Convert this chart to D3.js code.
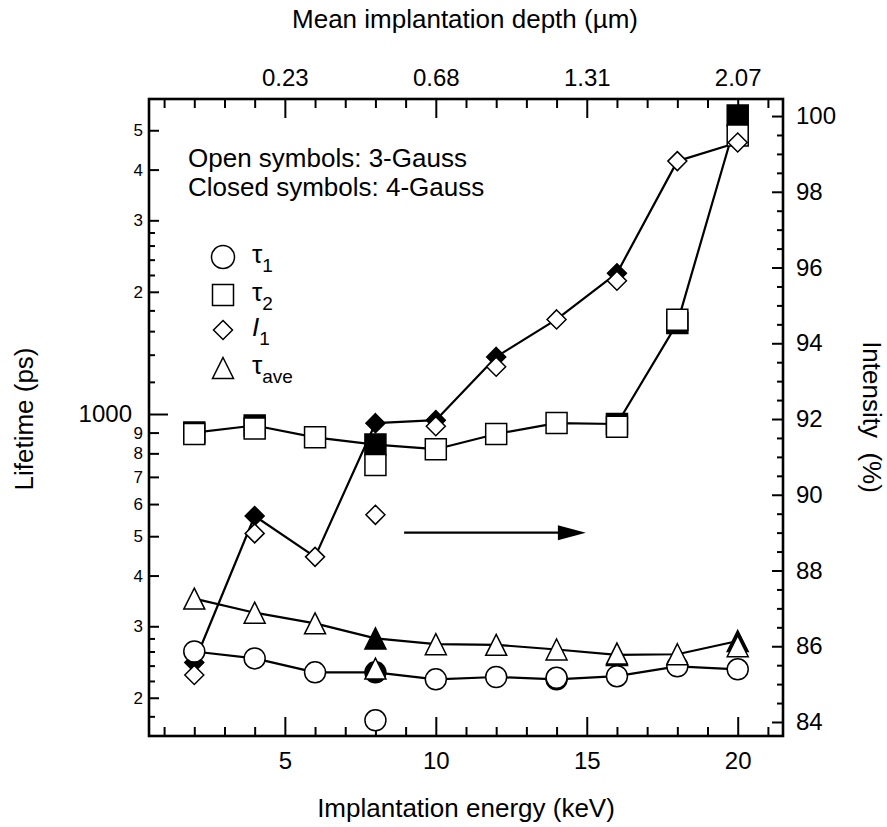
<!DOCTYPE html>
<html>
<head>
<meta charset="utf-8">
<script src="https://cdn.jsdelivr.net/npm/d3@7"></script>
<style>
  body { margin: 0; background: #fff; }
  svg { display: block; }
  text { font-family: "Liberation Sans", Arial, Helvetica, sans-serif; fill: #000; }
</style>
</head>
<body>
<svg id="chart" width="887" height="827"></svg>
<script>
// Implantation energies (keV) of the measured points
const energy = [2, 4, 6, 8, 10, 12, 14, 16, 18, 20];

// Top axis: mean implantation depth (µm) at selected energies
const depthTickEnergy = [5, 10, 15, 20];
const depthTickLabels = ["0.23", "0.68", "1.31", "2.07"];

// 3-Gauss fits (open symbols); null = not fitted
const tau1Open    = [260, 250, 231, 176, 222, 225, 224, 226, 239, 235];
const tau2Open    = [893, 921, 876, 749, 819, 893, 950, 930, 1707, 4853];
const i1Open      = [85.24, 88.98, 88.36, 89.47, 91.81, 93.38, 94.63, 95.65, 98.81, 99.30];
const tauAveOpen  = [351, 324, 305, 236, 271, 270, 263, 257, 256, 268];

// 4-Gauss fits (closed symbols); null = not fitted
const tau1Closed   = [null, null, null, 231, null, null, 222, null, null, null];
const tau2Closed   = [900, 937, null, 841, null, null, null, 945, 1675, 5435];
const i1Closed     = [85.57, 89.44, null, 91.89, 91.97, 93.64, null, 95.85, null, null];
const tauAveClosed = [null, null, null, 280, null, null, null, 255, null, 276];

// Left axis (log) tick values
const lifeMajor = [1000];
const lifeLabeled = [200, 300, 400, 500, 600, 700, 800, 900, 2000, 3000, 4000, 5000];
const lifeMinor = [180, 220, 240, 260, 280, 1200, 1400, 1600, 1800, 2200, 2400, 2600, 2800];

// Right axis tick values
const intensityLabeled = [84, 86, 88, 90, 92, 94, 96, 98, 100];

// Arrow pointing to the intensity axis: energy range and intensity level
const arrowEnergy = [8.95, 14.97];
const arrowLevel = 89.0;

// ---------------------------------------------------------------
const svg = d3.select("#chart");
const L = 149, R = 783, T = 99, B = 736;

const x = d3.scaleLinear().domain([0.5, 21.5]).range([L, R]);
const yLife = d3.scaleLog().domain([161, 5970]).range([B, T]);
const yInt = d3.scaleLinear().domain([83.63, 100.45]).range([B, T]);

const fmtLife = v => v === 1000 ? "1000" : String(v >= 1000 ? v / 1000 : v / 100);

// ----- axes -----
function styleAxis(g) {
  g.select(".domain").remove();
  g.selectAll(".tick line").attr("stroke", "#000").attr("stroke-width", 2);
}

// bottom
const xMinor = d3.range(1, 22).filter(v => v % 5 !== 0);
svg.append("g").attr("transform", `translate(0,${B})`)
  .call(d3.axisBottom(x).tickValues(xMinor).tickSizeInner(-9).tickSizeOuter(0).tickFormat(""))
  .call(styleAxis);
svg.append("g").attr("transform", `translate(0,${B})`)
  .call(d3.axisBottom(x).tickValues([5, 10, 15, 20]).tickSizeInner(-19).tickSizeOuter(0).tickPadding(16))
  .call(styleAxis)
  .call(g => g.selectAll("text").attr("font-size", 24).attr("dy", "0.71em"));

// top
svg.append("g").attr("transform", `translate(0,${T})`)
  .call(d3.axisTop(x).tickValues(xMinor).tickSizeInner(-9).tickSizeOuter(0).tickFormat(""))
  .call(styleAxis);
svg.append("g").attr("transform", `translate(0,${T})`)
  .call(d3.axisTop(x).tickValues(depthTickEnergy).tickSizeInner(-19).tickSizeOuter(0).tickPadding(13)
    .tickFormat((d, i) => depthTickLabels[i]))
  .call(styleAxis)
  .call(g => g.selectAll("text").attr("font-size", 24).attr("dy", "0"));

// left
svg.append("g").attr("transform", `translate(${L},0)`)
  .call(d3.axisLeft(yLife).tickValues(lifeMinor).tickSizeInner(-6).tickSizeOuter(0).tickFormat(""))
  .call(styleAxis);
svg.append("g").attr("transform", `translate(${L},0)`)
  .call(d3.axisLeft(yLife).tickValues(lifeLabeled).tickSizeInner(-10).tickSizeOuter(0).tickPadding(6).tickFormat(fmtLife))
  .call(styleAxis)
  .call(g => g.selectAll("text").attr("font-size", 17));
svg.append("g").attr("transform", `translate(${L},0)`)
  .call(d3.axisLeft(yLife).tickValues(lifeMajor).tickSizeInner(-19).tickSizeOuter(0).tickPadding(17).tickFormat(fmtLife))
  .call(styleAxis)
  .call(g => g.selectAll("text").attr("font-size", 24));

// right
const intMinor = d3.range(84, 100.01, 0.5).filter(v => v % 2 !== 0);
svg.append("g").attr("transform", `translate(${R},0)`)
  .call(d3.axisRight(yInt).tickValues(intMinor).tickSizeInner(-6).tickSizeOuter(0).tickFormat(""))
  .call(styleAxis);
svg.append("g").attr("transform", `translate(${R},0)`)
  .call(d3.axisRight(yInt).tickValues(intensityLabeled).tickSizeInner(-11).tickSizeOuter(0).tickPadding(13))
  .call(styleAxis)
  .call(g => g.selectAll("text").attr("font-size", 24));

// frame
svg.append("rect").attr("x", L).attr("y", T).attr("width", R - L).attr("height", B - T)
  .attr("fill", "none").attr("stroke", "#000").attr("stroke-width", 2.6);

// ----- axis titles -----
svg.append("text").attr("x", 465).attr("y", 28).attr("text-anchor", "middle")
  .attr("font-size", 26).text("Mean implantation depth (µm)");
svg.append("text").attr("x", (L + R) / 2).attr("y", 817).attr("text-anchor", "middle")
  .attr("font-size", 26).text("Implantation energy (keV)");
svg.append("text").attr("transform", "translate(33,419) rotate(-90)").attr("text-anchor", "middle")
  .attr("font-size", 26).text("Lifetime (ps)");
svg.append("text").attr("transform", "translate(863,417) rotate(90)").attr("text-anchor", "middle")
  .attr("font-size", 26).attr("xml:space", "preserve").text("Intensity  (%)");

// ----- marker shapes -----
const shapes = {
  circle: s => d3.symbol(d3.symbolCircle, Math.PI * (s / 2) ** 2)(),
  square: s => `M${-s / 2},${-s / 2}h${s}v${s}h${-s}Z`,
  diamond: s => `M0,${-s / 2}L${s / 2},0L0,${s / 2}L${-s / 2},0Z`,
  triangle: s => `M0,${-s / 2}L${s / 2},${s / 2}L${-s / 2},${s / 2}Z`
};
const sizes = { circle: 21, square: 21, diamond: 19, triangle: 21 };

const series = [
  { open: tau1Open, closed: tau1Closed, y: yLife, shape: "circle" },
  { open: tau2Open, closed: tau2Closed, y: yLife, shape: "square" },
  { open: i1Open, closed: i1Closed, y: yInt, shape: "diamond" },
  { open: tauAveOpen, closed: tauAveClosed, y: yLife, shape: "triangle" }
];

const plot = svg.append("g");

// connecting lines follow the 4-Gauss value where one exists
series.forEach(s => {
  const pts = energy.map((e, i) => [e, s.closed[i] != null ? s.closed[i] : s.open[i]]);
  plot.append("path")
    .attr("d", d3.line().x(d => x(d[0])).y(d => s.y(d[1]))(pts))
    .attr("fill", "none").attr("stroke", "#000").attr("stroke-width", 2.2)
    .attr("stroke-linejoin", "round");
});

// closed symbols beneath, open symbols on top
function drawMarkers(s, values, filled) {
  plot.selectAll(null)
    .data(energy.map((e, i) => [e, values[i]]).filter(d => d[1] != null))
    .join("path")
    .attr("transform", d => `translate(${x(d[0])},${s.y(d[1])})`)
    .attr("d", shapes[s.shape](sizes[s.shape]))
    .attr("fill", filled ? "#000" : "#fff")
    .attr("stroke", "#000").attr("stroke-width", 1.5);
}
series.forEach(s => drawMarkers(s, s.closed, true));
series.forEach(s => drawMarkers(s, s.open, false));

// ----- arrow -----
const ay = yInt(arrowLevel);
const ax0 = x(arrowEnergy[0]), ax1 = x(arrowEnergy[1]);
svg.append("line").attr("x1", ax0).attr("x2", ax1 - 20).attr("y1", ay).attr("y2", ay)
  .attr("stroke", "#000").attr("stroke-width", 2.2);
svg.append("path").attr("d", `M${ax1},${ay}L${ax1 - 28},${ay - 7.5}L${ax1 - 28},${ay + 7.5}Z`)
  .attr("fill", "#000");

// ----- notes and legend -----
svg.append("text").attr("x", 188).attr("y", 167).attr("font-size", 26).text("Open symbols: 3-Gauss");
svg.append("text").attr("x", 188).attr("y", 196).attr("font-size", 26).text("Closed symbols: 4-Gauss");

const legend = [
  { shape: "circle", size: 23, y: 257, main: "τ", sub: "1", italic: false },
  { shape: "square", size: 21, y: 295, main: "τ", sub: "2", italic: false },
  { shape: "diamond", size: 19, y: 330, main: "I", sub: "1", italic: true },
  { shape: "triangle", size: 21, y: 368, main: "τ", sub: "ave", italic: false }
];
legend.forEach(d => {
  svg.append("path").attr("transform", `translate(223,${d.y})`)
    .attr("d", shapes[d.shape](d.size))
    .attr("fill", "#fff").attr("stroke", "#000").attr("stroke-width", 1.5);
  const t = svg.append("text").attr("x", 252).attr("y", d.y + 6).attr("font-size", 26);
  t.append("tspan").attr("font-style", d.italic ? "italic" : "normal").text(d.main);
  t.append("tspan").attr("font-size", 19).attr("dy", 9).text(d.sub);
});
</script>
</body>
</html>
